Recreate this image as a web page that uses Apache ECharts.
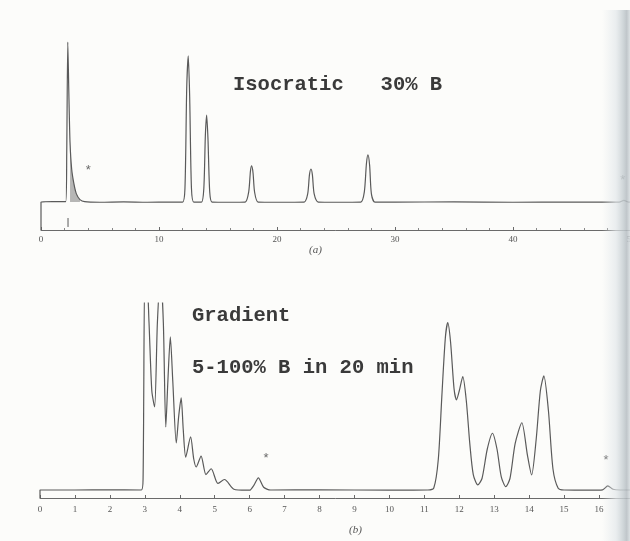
<!DOCTYPE html>
<html>
<head>
<meta charset="utf-8">
<script src="https://cdn.jsdelivr.net/npm/echarts@6/dist/echarts.min.js"></script>
<style>
  html, body { margin: 0; padding: 0; background: #fcfcfa; }
  #main { width: 630px; height: 541px; }
</style>
</head>
<body>
<div id="main"></div>
<script>
// (a) isocratic run, time in min / detector signal (arbitrary units)
var isoTime = [0, 0, 1.0, 2.1, 2.18, 2.27, 2.36, 2.46, 2.6, 2.8, 3.0, 3.3, 3.7, 5, 7, 9, 11,
  12.0, 12.2, 12.35, 12.48, 12.6, 12.75, 12.95, 13.6, 13.8, 13.93, 14.04, 14.15, 14.3, 14.5,
  16, 17.3, 17.6, 17.75, 17.85, 17.97, 18.1, 18.4, 20, 22.3, 22.6, 22.75, 22.88, 23.0, 23.15, 23.5,
  25, 27.1, 27.4, 27.58, 27.71, 27.85, 28.0, 28.3, 30, 35, 40, 45, 49, 49.4, 49.8, 50];
var isoSignal = [0, 14.7, 14.9, 14.9, 40, 98.9, 72, 46, 32, 24, 19, 16, 14.9, 14.6, 14.8, 14.6, 14.7,
  14.7, 22, 75, 91.6, 70, 22, 14.7, 14.7, 22, 50, 60.5, 48, 20, 14.7,
  14.6, 14.7, 20, 31, 33.7, 30, 20, 14.7, 14.6, 14.7, 19, 29, 32.1, 29, 19, 14.7,
  14.6, 14.7, 20, 35, 39.5, 34, 19, 14.7, 14.7, 14.8, 14.6, 14.7, 14.7, 15.6, 14.7, 14.7];

// (b) gradient run
var gradTime = [0, 0, 1, 2, 2.9, 2.95, 3.0, 3.05, 3.12, 3.2, 3.28, 3.36, 3.45, 3.53, 3.6, 3.66, 3.73,
  3.8, 3.9, 3.97, 4.04, 4.1, 4.17, 4.31, 4.4, 4.47, 4.61, 4.75, 4.9, 5.09, 5.28, 5.55, 5.9,
  6.0, 6.12, 6.25, 6.4, 6.6, 8, 10, 11.1, 11.27, 11.4, 11.5, 11.6, 11.67, 11.75, 11.85, 11.92,
  12.0, 12.1, 12.2, 12.3, 12.4, 12.53, 12.65, 12.8, 12.95, 13.08, 13.2, 13.33, 13.45, 13.6,
  13.79, 13.95, 14.07, 14.2, 14.32, 14.42, 14.55, 14.68, 14.83, 15.0, 15.8, 16.1, 16.25, 16.4, 16.6, 17];
var gradSignal = [0, 4.1, 4.1, 4.2, 4.1, 10, 115, 115, 90, 55, 46.7, 90, 115, 90, 36.4, 60, 82.6,
  60, 28.2, 42, 51.3, 35, 21.0, 31.3, 20, 15.9, 21.5, 12, 15, 7.5, 9.5, 4.5, 4.0,
  4.0, 6.5, 10.3, 5.5, 4.1, 4.2, 4.0, 4.1, 5.1, 20, 52, 82, 89.9, 80, 56, 50.3,
  55, 62.2, 50, 28, 12, 6.7, 10, 25, 33.2, 25, 11, 5.8, 10, 28,
  38.6, 22, 11.8, 30, 55, 62.6, 45, 15, 5, 4.1, 4.0, 4.2, 6.2, 4.5, 4.1, 4.1];

// asterisks marking impurity peaks [time, height]
var isoStars = [[4.0, 31.6], [49.3, 25.9]];
var gradStars = [[6.47, 20.5], [16.2, 19.5]];

function pairs(xs, ys) {
  return xs.map(function (x, i) { return [x, ys[i]]; });
}

var myChart = echarts.init(document.getElementById("main"));
var ink = "#5a5a5a";

var axisCommon = {
  type: "value",
  axisLine: { lineStyle: { color: "#6a6a6a", width: 1 } },
  axisTick: { inside: true, length: 3, lineStyle: { color: "#6a6a6a" } },
  splitLine: { show: false },
  axisLabel: { color: "#555", fontSize: 9, fontFamily: "Liberation Serif" },
};

var option = {
  backgroundColor: "#fcfcfa",
  animation: false,
  grid: [
    { left: 41, right: -1, top: 40, bottom: 311, outerBoundsMode: "none" },
    { left: 40, right: -4, top: 303, bottom: 43, outerBoundsMode: "none" },
  ],
  xAxis: [
    Object.assign({}, axisCommon, {
      gridIndex: 0, min: 0, max: 50, interval: 10,
      minorTick: { show: true, splitNumber: 5, length: 2, lineStyle: { color: "#888" } },
      axisLabel: Object.assign({}, axisCommon.axisLabel, { margin: 5 }),
    }),
    Object.assign({}, axisCommon, {
      gridIndex: 1, min: 0, max: 17, interval: 1,
      axisLabel: Object.assign({}, axisCommon.axisLabel, { margin: 7 }),
    }),
  ],
  yAxis: [
    { type: "value", gridIndex: 0, min: 0, max: 100, show: false },
    { type: "value", gridIndex: 1, min: 0, max: 100, show: false },
  ],
  series: [
    {
      type: "line", xAxisIndex: 0, yAxisIndex: 0, symbol: "none", smooth: 0.25,
      lineStyle: { color: ink, width: 1.2 },
      data: pairs(isoTime, isoSignal),
    },
    {
      // shaded tail of the solvent front
      type: "line", xAxisIndex: 0, yAxisIndex: 0, symbol: "none", smooth: 0.25,
      lineStyle: { width: 0 },
      areaStyle: { color: "rgba(70,70,70,0.55)", origin: 14.7 },
      data: pairs(isoTime.slice(7, 12), isoSignal.slice(7, 12)),
    },
    {
      // injection mark
      type: "line", xAxisIndex: 0, yAxisIndex: 0, symbol: "none",
      lineStyle: { color: ink, width: 1 },
      data: [[2.29, 1.6], [2.29, 6.3]],
    },
    {
      type: "line", xAxisIndex: 1, yAxisIndex: 1, symbol: "none", smooth: 0.25,
      lineStyle: { color: ink, width: 1.2 },
      data: pairs(gradTime, gradSignal),
    },
    {
      type: "scatter", xAxisIndex: 0, yAxisIndex: 0, symbolSize: 0,
      label: { show: true, formatter: "*", color: "#444", fontSize: 13, position: "inside" },
      data: isoStars,
    },
    {
      type: "scatter", xAxisIndex: 1, yAxisIndex: 1, symbolSize: 0,
      label: { show: true, formatter: "*", color: "#444", fontSize: 13, position: "inside" },
      data: gradStars,
    },
  ],
  graphic: [
    {
      type: "text", left: 233, top: 74,
      style: { text: "Isocratic   30% B", font: "bold 20.5px 'Liberation Mono'", fill: "#3a3a3a" },
    },
    {
      type: "text", left: 192, top: 305,
      style: { text: "Gradient", font: "bold 20.5px 'Liberation Mono'", fill: "#3a3a3a" },
    },
    {
      type: "text", left: 192, top: 357,
      style: { text: "5-100% B in 20 min", font: "bold 20.5px 'Liberation Mono'", fill: "#3a3a3a" },
    },
    {
      type: "text", left: 309, top: 245,
      style: { text: "(a)", font: "italic 11px 'Liberation Serif'", fill: "#555" },
    },
    {
      type: "text", left: 349, top: 525,
      style: { text: "(b)", font: "italic 11px 'Liberation Serif'", fill: "#555" },
    },
    {
      type: "rect", z: 100, silent: true,
      shape: { x: 602, y: 10, width: 28, height: 531 },
      style: {
        fill: new echarts.graphic.LinearGradient(0, 0, 1, 0, [
          { offset: 0, color: "rgba(228,233,236,0)" },
          { offset: 0.5, color: "rgba(226,231,234,0.7)" },
          { offset: 0.78, color: "rgba(196,204,208,0.85)" },
          { offset: 0.88, color: "rgba(182,189,194,0.85)" },
          { offset: 1, color: "rgba(214,220,223,0.85)" },
        ]),
      },
    },
  ],
};

option && myChart.setOption(option);
</script>
</body>
</html>
